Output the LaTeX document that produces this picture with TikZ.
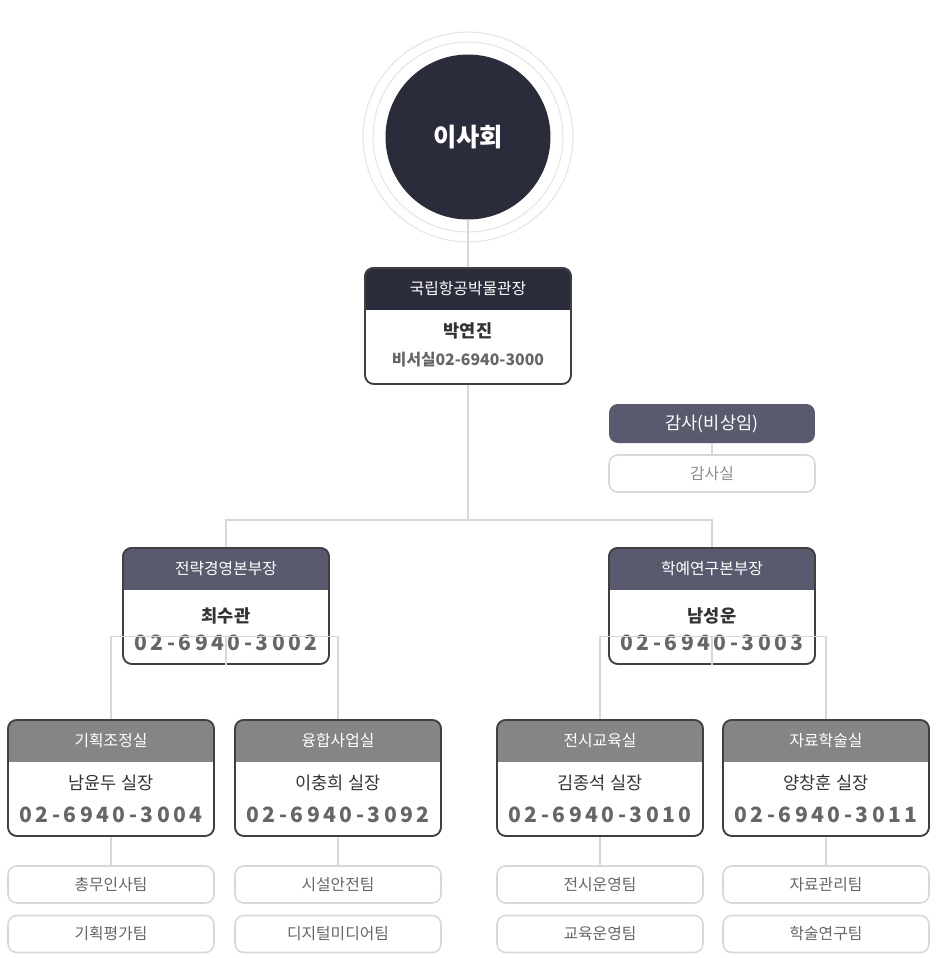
\documentclass[tikz,border=0pt]{standalone}
\usepackage{fontspec}
\setmainfont{Noto Sans CJK KR}
\usetikzlibrary{positioning,calc}
\definecolor{navy}{HTML}{2B2C3B}
\definecolor{slate}{HTML}{5A5A6E}
\definecolor{greyhead}{HTML}{858585}
\definecolor{wire}{HTML}{D8D8D8}
\definecolor{txtgrey}{HTML}{666666}
\tikzset{
	frame/.style={draw=black!75,line width=0.9pt,rounded corners=5pt,minimum width=4.12cm,minimum height=2.32cm,inner sep=0pt},
	teambox/.style={draw=wire,line width=0.9pt,rounded corners=5pt,minimum width=4.12cm,minimum height=0.74cm,text=txtgrey,font=\small},
	link/.style={draw=wire,line width=0.8pt},
	headtxt/.style={text=white,font=\small},
	nametxt/.style={text=black!80,font=\bfseries},
	phonetxt/.style={text=txtgrey,font=\bfseries\large}
}
% box with a coloured header: name, centre x, top y, header colour, title, line 1, line 2
\newcommand{\orgbox}[7]{
	\node[frame] (#1) at (#2,#3+58) {};
	\begin{scope}
		\clip[rounded corners=5pt] (#1.south west) rectangle (#1.north east);
		\fill[#4] (#1.north west) rectangle ($(#1.north east)+(0,-0.86cm)$);
	\end{scope}
	\node[frame] at (#1) {};
	\node[headtxt] (#1-title) at (#2,#3+21) {#5};
	\node[nametxt] (#1-name) at (#2,#3+#6) {\strut #7};
}
\begin{document}
\begin{tikzpicture}[x=0.02cm,y=-0.02cm]
	\useasboundingbox (0,0) rectangle (937,958);
	% board
	\draw[wire!70,line width=0.6pt] (468,137) circle (1.9cm);
	\draw[wire!70,line width=0.6pt] (468,137) circle (2.1cm);
	\node[circle,fill=navy,minimum size=3.3cm,text=white,font=\Large\bfseries] (board) at (468,137) {이사회};
	% director
	\orgbox{dir}{468}{268}{navy}{국립항공박물관장}{65}{박연진}
	\node[text=txtgrey,font=\small\bfseries] (dir-phone) at (468,360) {비서실02-6940-3000};
	% audit
	\node[fill=slate,rounded corners=5pt,minimum width=4.12cm,minimum height=0.78cm,headtxt,font=\normalsize] (audit) at (712,423.5) {감사(비상임)};
	\node[teambox,text=black!45] (auditroom) at (712,473.5) {감사실};
	% strategic and research divisions
	\orgbox{strat}{226}{548}{slate}{전략경영본부장}{70}{최수관}
	\node[phonetxt] (strat-phone) at (226,643) {0\,2\,-\,6\,9\,4\,0\,-\,3\,0\,0\,2};
	\orgbox{res}{712}{548}{slate}{학예연구본부장}{70}{남성운}
	\node[phonetxt] (res-phone) at (712,643) {0\,2\,-\,6\,9\,4\,0\,-\,3\,0\,0\,3};
	% offices
	\orgbox{plan}{111}{720}{greyhead}{기획조정실}{65}{\mdseries 남윤두 실장}
	\node[phonetxt] (plan-phone) at (111,815) {0\,2\,-\,6\,9\,4\,0\,-\,3\,0\,0\,4};
	\orgbox{conv}{338}{720}{greyhead}{융합사업실}{65}{\mdseries 이충희 실장}
	\node[phonetxt] (conv-phone) at (338,815) {0\,2\,-\,6\,9\,4\,0\,-\,3\,0\,9\,2};
	\orgbox{exhi}{600}{720}{greyhead}{전시교육실}{65}{\mdseries 김종석 실장}
	\node[phonetxt] (exhi-phone) at (600,815) {0\,2\,-\,6\,9\,4\,0\,-\,3\,0\,1\,0};
	\orgbox{arch}{826}{720}{greyhead}{자료학술실}{65}{\mdseries 양창훈 실장}
	\node[phonetxt] (arch-phone) at (826,815) {0\,2\,-\,6\,9\,4\,0\,-\,3\,0\,1\,1};
	% teams
	\node[teambox] (t1) at (111,884.5) {총무인사팀};
	\node[teambox] (t2) at (111,934) {기획평가팀};
	\node[teambox] (t3) at (338,884.5) {시설안전팀};
	\node[teambox] (t4) at (338,934) {디지털미디어팀};
	\node[teambox] (t5) at (600,884.5) {전시운영팀};
	\node[teambox] (t6) at (600,934) {교육운영팀};
	\node[teambox] (t7) at (826,884.5) {자료관리팀};
	\node[teambox] (t8) at (826,934) {학술연구팀};
	% connectors
	\draw[link] (board) -- (dir);
	\draw[link] (audit) -- (auditroom);
	\coordinate (split) at (468,520);
	\draw[link] (dir.south) -- (split);
	\draw[link] (split) -| (strat.north);
	\draw[link] (split) -| (res.north);
	\draw[link] (strat.south) -- ++(0,-28) coordinate (sl);
	\draw[link] (sl) -| (plan.north);
	\draw[link] (sl) -| (conv.north);
	\draw[link] (res.south) -- ++(0,-28) coordinate (sr);
	\draw[link] (sr) -| (exhi.north);
	\draw[link] (sr) -| (arch.north);
	\foreach \o/\t in {plan/t1,conv/t3,exhi/t5,arch/t7}
		\draw[link] (\o.south) -- (\t.north);
\end{tikzpicture}
\end{document}
